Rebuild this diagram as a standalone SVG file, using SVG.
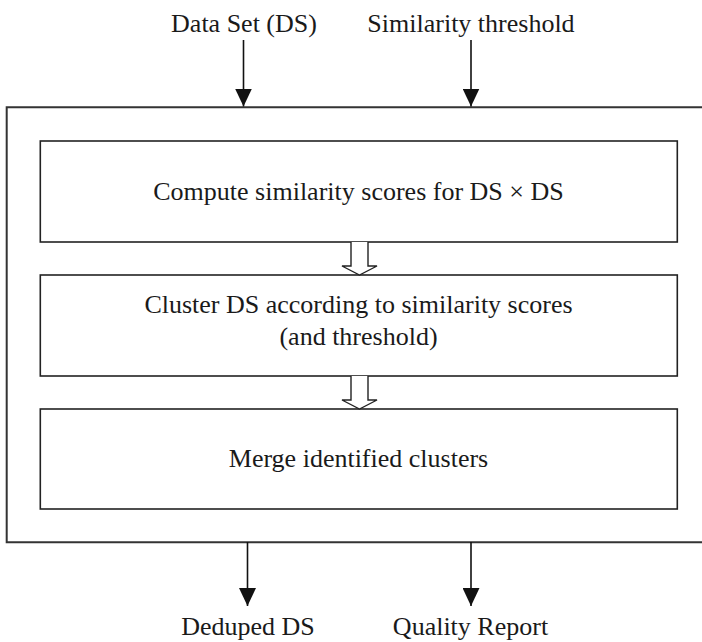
<svg xmlns="http://www.w3.org/2000/svg" width="702" height="642" viewBox="0 0 702 642">
  <defs>
    <style>
      .t { font-family: 'Liberation Serif', 'DejaVu Serif', serif; font-size: 26px; fill: #1a1a1a; text-anchor: middle; }
      .box { fill: #fff; stroke: #222; stroke-width: 1.6; }
      .outer { fill: none; stroke: #333; stroke-width: 2; }
      .ln { stroke: #111; stroke-width: 1.6; fill: none; }
      .hollow { fill: #fff; stroke: #222; stroke-width: 1.4; stroke-linejoin: miter; }
    </style>
    <marker id="ah" markerWidth="18" markerHeight="17" refX="18" refY="8.5" orient="auto" markerUnits="userSpaceOnUse" viewBox="0 0 18 17">
      <path d="M0,0 L18,8.5 L0,17 Z" fill="#111"/>
    </marker>
  </defs>
  <rect width="702" height="642" fill="#fff"/>

  <g id="container">
    <path class="outer" d="M 704 107.3 H 6.7 V 542.3 H 704"/>
  </g>

  <g id="input-ds">
    <text class="t" x="244" y="32">Data Set (DS)</text>
  </g>
  <g id="input-threshold">
    <text class="t" x="471" y="32">Similarity threshold</text>
  </g>

  <g id="step-compute">
    <rect class="box" x="40.3" y="141" width="637" height="101"/>
    <text class="t" x="358.5" y="200">Compute similarity scores for DS × DS</text>
  </g>
  <g id="step-cluster">
    <rect class="box" x="40.3" y="275" width="637" height="101"/>
    <text class="t" x="358.5" y="313">Cluster DS according to similarity scores</text>
    <text class="t" x="358.5" y="345">(and threshold)</text>
  </g>
  <g id="step-merge">
    <rect class="box" x="40.3" y="409" width="637" height="100"/>
    <text class="t" x="358.5" y="467">Merge identified clusters</text>
  </g>

  <g id="output-deduped">
    <text class="t" x="248" y="635">Deduped DS</text>
  </g>
  <g id="output-report">
    <text class="t" x="470.5" y="635">Quality Report</text>
  </g>

  <g id="connectors">
    <line class="ln" x1="243.5" y1="40" x2="243.5" y2="106.5" marker-end="url(#ah)"/>
    <line class="ln" x1="471" y1="40" x2="471" y2="106.5" marker-end="url(#ah)"/>
    <line class="ln" x1="247.5" y1="542" x2="247.5" y2="606" marker-end="url(#ah)"/>
    <line class="ln" x1="471" y1="542" x2="471" y2="606" marker-end="url(#ah)"/>
    <path class="hollow" d="M 351 242 V 266 H 342 L 359.5 275 L 377 266 H 368 V 242"/>
    <path class="hollow" d="M 351 376 V 400 H 342 L 359.5 409 L 377 400 H 368 V 376"/>
  </g>
</svg>
